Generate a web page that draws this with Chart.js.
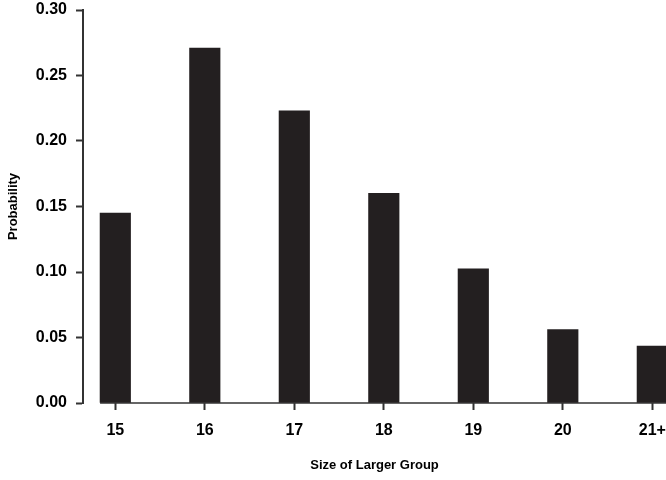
<!DOCTYPE html>
<html>
<head>
<meta charset="utf-8">
<script src="https://cdn.jsdelivr.net/npm/chart.js@4.4.1/dist/chart.umd.min.js"></script>
<style>
  html, body { margin: 0; padding: 0; background: #ffffff; }
  #wrap { width: 666px; height: 480px; }
</style>
</head>
<body>
<div id="wrap"><canvas id="chart" width="666" height="480"></canvas></div>
<script>
// Size of the larger group and its probability
const groupSizes = ['15', '16', '17', '18', '19', '20', '21+'];
const probabilities = [0.145, 0.271, 0.223, 0.160, 0.1025, 0.056, 0.0435];
const probabilityTicks = [0, 0.05, 0.10, 0.15, 0.20, 0.25, 0.30];

const INK = '#231f20';
const AXIS = '#333333';
const FONT = "'Liberation Sans', Arial, Helvetica, sans-serif";

// Baseline under the bars: starts at the first bar's left edge and runs to the right
const baselinePlugin = {
  id: 'baseline',
  beforeDatasetsDraw(chart) {
    const { ctx, scales: { y } } = chart;
    const meta = chart.getDatasetMeta(0);
    const first = meta.data[0];
    const left = first.x - first.width / 2;
    const yPix = y.getPixelForValue(0);
    ctx.save();
    ctx.strokeStyle = AXIS;
    ctx.lineWidth = 1.5;
    ctx.beginPath();
    ctx.moveTo(left, yPix);
    ctx.lineTo(chart.width, yPix);
    ctx.stroke();
    ctx.restore();
  }
};

new Chart(document.getElementById('chart'), {
  type: 'bar',
  data: {
    datasets: [{
      data: probabilities.map((p, i) => ({ x: i, y: p })),
      backgroundColor: INK,
      borderWidth: 0,
      barThickness: 30.5
    }]
  },
  options: {
    responsive: false,
    animation: false,
    layout: { padding: { top: 10, right: 0, left: 0, bottom: 0 } },
    plugins: { legend: { display: false }, tooltip: { enabled: false } },
    scales: {
      x: {
        type: 'linear',
        offset: false,
        min: -0.361,
        max: 6.153,
        afterBuildTicks(scale) {
          scale.ticks = groupSizes.map((_, i) => ({ value: i }));
        },
        afterFit(scale) {
          scale.height = 77;
          scale.paddingLeft = 0;
          scale.paddingRight = 0;
        },
        border: { display: false },
        grid: {
          offset: false,
          drawOnChartArea: false,
          drawTicks: true,
          tickLength: 7,
          tickWidth: 2,
          tickColor: AXIS
        },
        ticks: {
          autoSkip: false,
          maxRotation: 0,
          padding: 11,
          color: '#000000',
          font: { family: FONT, size: 16, weight: 'bold' },
          callback: (v) => groupSizes[v]
        },
        title: {
          display: true,
          text: 'Size of Larger Group',
          color: '#000000',
          font: { family: FONT, size: 13, weight: 'bold' },
          padding: { top: 0, bottom: 7 }
        }
      },
      y: {
        min: 0,
        max: 0.30,
        afterBuildTicks(scale) {
          scale.ticks = probabilityTicks.map(v => ({ value: v }));
        },
        afterFit(scale) {
          scale.width = 83;
          scale.paddingTop = 0;
          scale.paddingBottom = 0;
        },
        border: { display: true, color: AXIS, width: 2 },
        grid: {
          drawOnChartArea: false,
          drawTicks: true,
          tickLength: 7,
          tickWidth: 2,
          tickColor: AXIS
        },
        ticks: {
          padding: 9,
          color: '#000000',
          font: { family: FONT, size: 16, weight: 'bold' },
          callback: (v) => Number(v).toFixed(2)
        },
        title: {
          display: true,
          text: 'Probability',
          color: '#000000',
          font: { family: FONT, size: 13, weight: 'bold' },
          padding: { top: 6, bottom: 0 }
        }
      }
    }
  },
  plugins: [baselinePlugin]
});
</script>
</body>
</html>
